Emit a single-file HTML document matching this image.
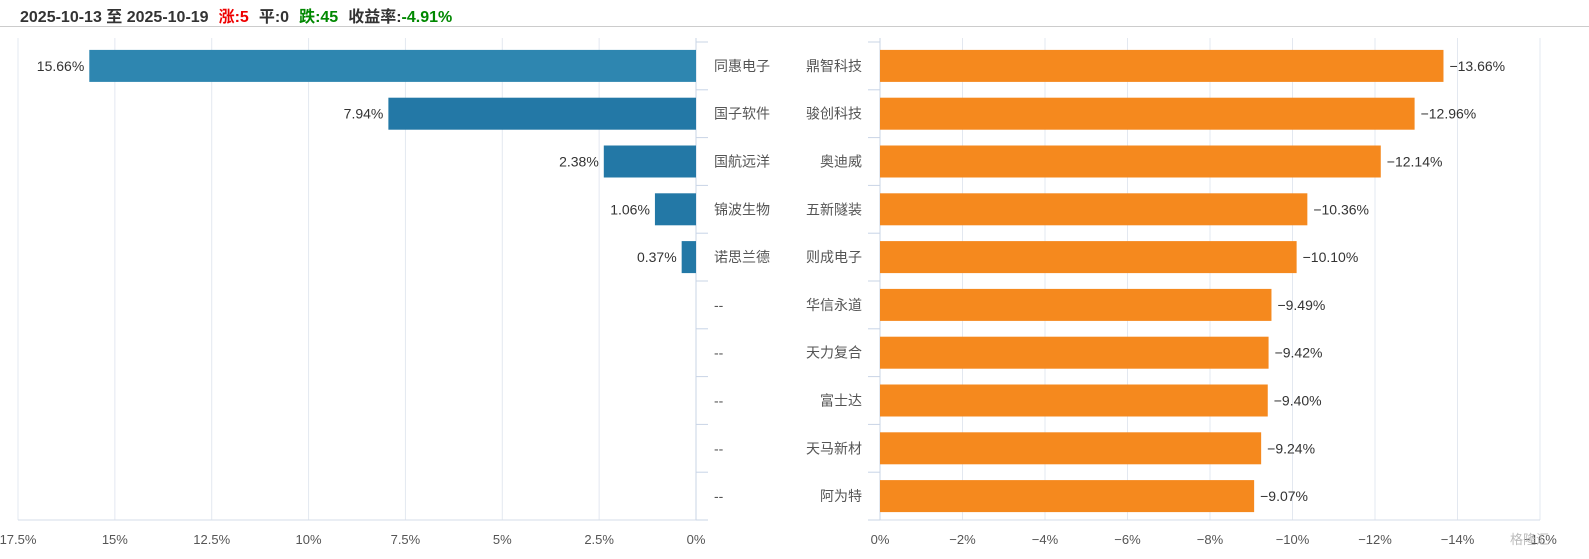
<!DOCTYPE html>
<html><head><meta charset="utf-8"><style>
body{margin:0;width:1589px;height:559px;background:#fff;overflow:hidden;font-family:"Liberation Sans","Noto Sans CJK SC",sans-serif}
#hdr{position:absolute;left:20px;top:3px;font-size:16px;font-weight:bold;color:#333;white-space:nowrap}
#hdr span{margin-right:10px}
#line{position:absolute;left:0;top:26px;width:1589px;height:1px;background:#ccc}
</style></head><body>
<div id="hdr"><span>2025-10-13 至 2025-10-19</span><span style="color:#e00">涨:5</span><span>平:0</span><span style="color:#080">跌:45</span><span>收益率:<span style="color:#080">-4.91%</span></span></div>
<div id="line"></div>
<svg id="c" width="1589" height="559" style="position:absolute;left:0;top:0"></svg>
<script>
const gainNames=["同惠电子","国子软件","国航远洋","锦波生物","诺思兰德","--","--","--","--","--"];
const gainValues=[15.66,7.94,2.38,1.06,0.37,null,null,null,null,null];
const lossNames=["鼎智科技","骏创科技","奥迪威","五新隧装","则成电子","华信永道","天力复合","富士达","天马新材","阿为特"];
const lossValues=[-13.66,-12.96,-12.14,-10.36,-10.10,-9.49,-9.42,-9.40,-9.24,-9.07];
const leftTicks=[17.5,15,12.5,10,7.5,5,2.5,0];
const rightTicks=[0,-2,-4,-6,-8,-10,-12,-14,-16];
const svg=document.getElementById('c');const NS='http://www.w3.org/2000/svg';
function mk(t,a,p){const e=document.createElementNS(NS,t);for(const k in a)e.setAttribute(k,a[k]);(p||svg).appendChild(e);return e;}
const plotTop=42,plotBot=520,n=10,rowH=(plotBot-plotTop)/n;
const lx=v=>696-v*(678/17.5);
const rx=v=>880+(-v)*(660/16);
const ry=i=>plotTop+i*rowH;
leftTicks.forEach(t=>{const g=mk('line',{x1:lx(t),x2:lx(t),y1:plotTop-4,y2:plotBot,stroke:'#e3e8f0'});

const l=mk('text',{x:lx(t),y:544,'text-anchor':'middle','font-size':13,fill:'#555'});l.textContent=t+'%';
});
rightTicks.forEach(t=>{const g=mk('line',{x1:rx(t),x2:rx(t),y1:plotTop-4,y2:plotBot,stroke:'#e3e8f0'});

const l=mk('text',{x:rx(t),y:544,'text-anchor':'middle','font-size':13,fill:'#555'});l.textContent=(t===0?'0':'−'+(-t))+'%';
});
mk('line',{x1:18,x2:696,y1:plotBot,y2:plotBot,stroke:'#d5dde8'});
mk('line',{x1:880,x2:1540,y1:plotBot,y2:plotBot,stroke:'#d5dde8'});
mk('line',{x1:696,x2:696,y1:plotTop-4,y2:plotBot,stroke:'#c8d4e6'});
mk('line',{x1:880,x2:880,y1:plotTop-4,y2:plotBot,stroke:'#c8d4e6'});
for(let i=0;i<=n;i++){mk('line',{x1:696,x2:708,y1:ry(i),y2:ry(i),stroke:'#c8d4e6'});mk('line',{x1:868,x2:880,y1:ry(i),y2:ry(i),stroke:'#c8d4e6'});}
gainValues.forEach((v,i)=>{const cy=ry(i)+rowH/2;
const c=mk('text',{x:714,y:cy+5,'font-size':14,fill:'#555'});c.textContent=gainNames[i];

if(v==null)return;
const b=mk('rect',{x:lx(v),y:cy-16,width:696-lx(v),height:32,fill:i==0?'#2e86b0':'#2378a6'});

const t=mk('text',{x:lx(v)-5,y:cy+5,'text-anchor':'end','font-size':14,fill:'#333'});t.textContent=v.toFixed(2)+'%';
});
lossValues.forEach((v,i)=>{const cy=ry(i)+rowH/2;
const c=mk('text',{x:862,y:cy+5,'text-anchor':'end','font-size':14,fill:'#555'});c.textContent=lossNames[i];

const b=mk('rect',{x:880,y:cy-16,width:rx(v)-880,height:32,fill:'#f5891e'});

const t=mk('text',{x:rx(v)+6,y:cy+5,'font-size':14,fill:'#333'});t.textContent='−'+(-v).toFixed(2)+'%';
});
const w=mk('text',{x:1510,y:544,'font-size':13,fill:'#bbb'});w.textContent='格隆汇';

</script>
</body></html>
